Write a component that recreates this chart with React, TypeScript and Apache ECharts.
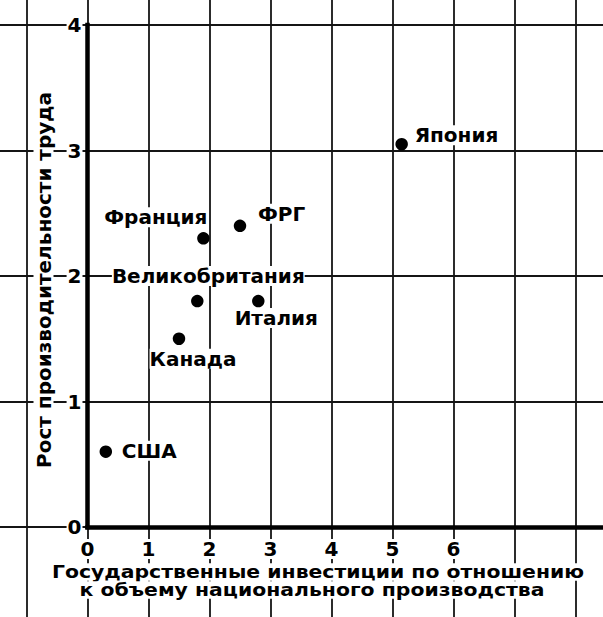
import React, { useEffect, useRef } from "react";
import * as echarts from "echarts";

// ---- data ----
const countries = ["США", "Канада", "Великобритания", "Италия", "Франция", "ФРГ", "Япония"];
const investment = [0.3, 1.5, 1.8, 2.8, 1.9, 2.5, 5.15];
const productivity = [0.6, 1.5, 1.8, 1.8, 2.3, 2.4, 3.05];
const xTickLabels = [0, 1, 2, 3, 4, 5, 6];
const yTickLabels = [0, 1, 2, 3, 4];
const xTitleLines = ["Государственные инвестиции по отношению", "к объему национального производства"];
const yTitle = "Рост производительности труда";

// ---- label placement (style only) ----
const labelPlacement: Record<string, { align: string; offset: [number, number] }> = {
  "США": { align: "left", offset: [16, -1] },
  "Канада": { align: "center", offset: [14, 20] },
  "Великобритания": { align: "center", offset: [11, -25] },
  "Италия": { align: "center", offset: [18, 17] },
  "Франция": { align: "right", offset: [4, -21] },
  "ФРГ": { align: "left", offset: [18, -12] },
  "Япония": { align: "left", offset: [13, -9] },
};

const FONT = "'DejaVu Sans', sans-serif";

export default function App() {
  const ref = useRef<HTMLDivElement>(null);

  useEffect(() => {
    if (!ref.current) return;
    const chart = echarts.init(ref.current, undefined, { renderer: "svg" });

    const data = countries.map((name, i) => {
      const p = labelPlacement[name];
      return {
        name,
        value: [investment[i], productivity[i]],
        label: {
          show: true,
          position: "inside",
          formatter: name,
          align: p.align,
          verticalAlign: "middle",
          offset: p.offset,
          color: "#000",
          opacity: 1,
          fontFamily: FONT,
          fontWeight: "bold",
          fontSize: 20,
          backgroundColor: "#fff",
        },
      };
    });

    const tickFont = {
      color: "#000",
      fontFamily: FONT,
      fontWeight: "bold",
      fontSize: 20,
      backgroundColor: "#fff",
    };
    const thickAxis = { show: true, onZero: false, lineStyle: { color: "#000", width: 4.5, cap: "square" } };

    const xTitleY = [572, 590];

    const option: any = {
      animation: false,
      backgroundColor: "#fff",
      grid: [
        // background grid extending over the whole picture
        { left: -34.5, right: -33.5, top: -100.5, bottom: -35.5, containLabel: false, outerBoundsMode: "none" },
        // main plot area: x from 0 to the right edge, y from 0 to 4
        { left: 87.5, right: 0, top: 25, bottom: 90, containLabel: false, outerBoundsMode: "none" },
      ],
      xAxis: [
        {
          gridIndex: 0,
          type: "value",
          min: -2,
          max: 9,
          interval: 1,
          axisLine: { show: false },
          axisTick: { show: false },
          axisLabel: { show: false },
          splitLine: { show: true, lineStyle: { color: "#151515", width: 1.8 } },
        },
        {
          gridIndex: 1,
          type: "value",
          min: 0,
          max: 515.5 / 61,
          interval: 1,
          axisLine: thickAxis,
          axisTick: { show: false },
          splitLine: { show: false },
          axisLabel: { show: true, customValues: xTickLabels, margin: 12, padding: [0, 2], ...tickFont },
        },
      ],
      yAxis: [
        {
          gridIndex: 0,
          type: "value",
          min: -1,
          max: 5,
          interval: 1,
          axisLine: { show: false },
          axisTick: { show: false },
          axisLabel: { show: false },
          splitLine: { show: true, lineStyle: { color: "#151515", width: 1.8 } },
        },
        {
          gridIndex: 1,
          type: "value",
          min: 0,
          max: 4,
          interval: 1,
          axisLine: thickAxis,
          axisTick: { show: false },
          splitLine: { show: false },
          axisLabel: { show: true, customValues: yTickLabels, margin: 5, padding: [0, 1], ...tickFont },
        },
      ],
      graphic: [
        ...xTitleLines.map((line, i) => ({
          type: "text",
          x: i === 0 ? 318 : 312,
          y: xTitleY[i],
          scaleY: 0.88,
          z: 10 + i,
          style: {
            text: line,
            textAlign: "center",
            textVerticalAlign: "middle",
            fill: "#000",
            font: `bold 20.4px ${FONT}`,
            backgroundColor: "#fff",
          },
        })),
        {
          type: "text",
          x: 43.5,
          y: 280,
          rotation: Math.PI / 2,
          z: 10,
          style: {
            text: yTitle,
            textAlign: "center",
            textVerticalAlign: "middle",
            fill: "#000",
            font: `bold 20px ${FONT}`,
            backgroundColor: "#fff",
          },
        },
      ],
      series: [
        {
          type: "scatter",
          xAxisIndex: 1,
          yAxisIndex: 1,
          symbol: "circle",
          symbolSize: 12.5,
          itemStyle: { color: "#000", opacity: 1 },
          data,
          z: 5,
        },
      ],
    };

    chart.setOption(option);
    return () => chart.dispose();
  }, []);

  return (
    <div
      ref={ref}
      style={{ position: "absolute", left: 0, top: 0, width: 603, height: 617 }}
    />
  );
}
